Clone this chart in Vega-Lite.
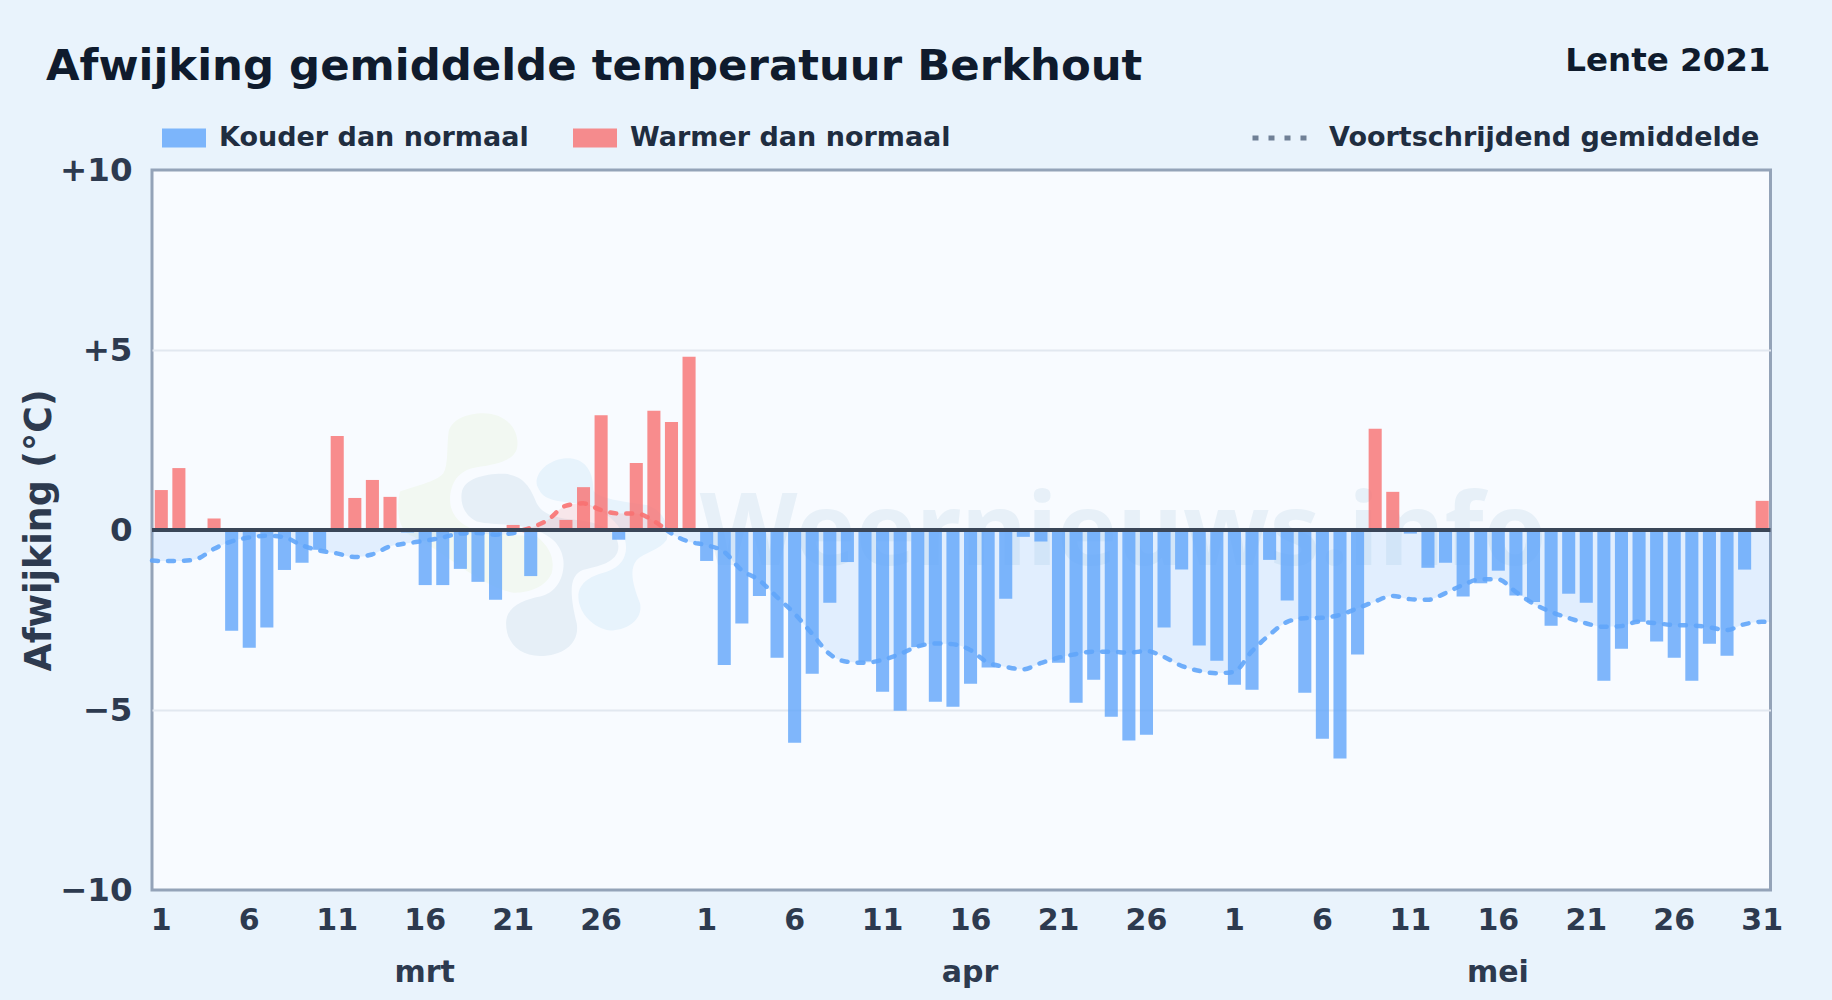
{
"$schema":"https://vega.github.io/schema/vega-lite/v6.json",
"width":1618.5,"height":720,
"autosize":{"type":"none"},
"padding":{"left":152,"top":170,"right":61,"bottom":110},
"background":"#e9f3fc",
"view":{"stroke":"#94a3b8","strokeWidth":3,"fill":"#f8fbff"},
"title":{"text":"Afwijking gemiddelde temperatuur Berkhout","anchor":"start","frame":"group","dx":-106,"offset":-78,"baseline":"alphabetic","font":"DejaVu Sans","fontSize":43.4,"fontWeight":"bold","color":"#0f1b2d"},
"datasets":{
"watermerk":[{"naam":"groen","datum":"2021-03-22T11:46:00Z","waarde":-0.09},{"naam":"blauw","datum":"2021-03-22T11:46:00Z","waarde":-0.09},{"naam":"navy","datum":"2021-03-22T11:46:00Z","waarde":-0.09}],
"merk":[{"tekst":"Weernieuws.info","datum":"2021-04-25T05:00:00Z","waarde":-0.97}],
"nullijn":[{"waarde":0}],
"maanden":[{"maand":"mrt","datum":"2021-03-16T12:00:00Z","waarde":-12.56},{"maand":"apr","datum":"2021-04-16T12:00:00Z","waarde":-12.56},{"maand":"mei","datum":"2021-05-16T12:00:00Z","waarde":-12.56}],
"kop":[{"tekst":"Lente 2021","datum":"2021-06-01T00:00:00Z","waarde":12.75}],
"dagen":[
{"datum":"2021-03-01","afwijking":1.11,"soort":"Warmer dan normaal"},
{"datum":"2021-03-02","afwijking":1.72,"soort":"Warmer dan normaal"},
{"datum":"2021-03-03","afwijking":0,"soort":"Warmer dan normaal"},
{"datum":"2021-03-04","afwijking":0.32,"soort":"Warmer dan normaal"},
{"datum":"2021-03-05","afwijking":-2.8,"soort":"Kouder dan normaal"},
{"datum":"2021-03-06","afwijking":-3.27,"soort":"Kouder dan normaal"},
{"datum":"2021-03-07","afwijking":-2.71,"soort":"Kouder dan normaal"},
{"datum":"2021-03-08","afwijking":-1.11,"soort":"Kouder dan normaal"},
{"datum":"2021-03-09","afwijking":-0.91,"soort":"Kouder dan normaal"},
{"datum":"2021-03-10","afwijking":-0.55,"soort":"Kouder dan normaal"},
{"datum":"2021-03-11","afwijking":2.61,"soort":"Warmer dan normaal"},
{"datum":"2021-03-12","afwijking":0.89,"soort":"Warmer dan normaal"},
{"datum":"2021-03-13","afwijking":1.39,"soort":"Warmer dan normaal"},
{"datum":"2021-03-14","afwijking":0.92,"soort":"Warmer dan normaal"},
{"datum":"2021-03-15","afwijking":-0.07,"soort":"Kouder dan normaal"},
{"datum":"2021-03-16","afwijking":-1.53,"soort":"Kouder dan normaal"},
{"datum":"2021-03-17","afwijking":-1.53,"soort":"Kouder dan normaal"},
{"datum":"2021-03-18","afwijking":-1.08,"soort":"Kouder dan normaal"},
{"datum":"2021-03-19","afwijking":-1.44,"soort":"Kouder dan normaal"},
{"datum":"2021-03-20","afwijking":-1.94,"soort":"Kouder dan normaal"},
{"datum":"2021-03-21","afwijking":0.14,"soort":"Warmer dan normaal"},
{"datum":"2021-03-22","afwijking":-1.28,"soort":"Kouder dan normaal"},
{"datum":"2021-03-23","afwijking":0,"soort":"Warmer dan normaal"},
{"datum":"2021-03-24","afwijking":0.28,"soort":"Warmer dan normaal"},
{"datum":"2021-03-25","afwijking":1.19,"soort":"Warmer dan normaal"},
{"datum":"2021-03-26","afwijking":3.19,"soort":"Warmer dan normaal"},
{"datum":"2021-03-27","afwijking":-0.27,"soort":"Kouder dan normaal"},
{"datum":"2021-03-28","afwijking":1.86,"soort":"Warmer dan normaal"},
{"datum":"2021-03-29","afwijking":3.31,"soort":"Warmer dan normaal"},
{"datum":"2021-03-30","afwijking":3.0,"soort":"Warmer dan normaal"},
{"datum":"2021-03-31","afwijking":4.81,"soort":"Warmer dan normaal"},
{"datum":"2021-04-01","afwijking":-0.86,"soort":"Kouder dan normaal"},
{"datum":"2021-04-02","afwijking":-3.75,"soort":"Kouder dan normaal"},
{"datum":"2021-04-03","afwijking":-2.6,"soort":"Kouder dan normaal"},
{"datum":"2021-04-04","afwijking":-1.83,"soort":"Kouder dan normaal"},
{"datum":"2021-04-05","afwijking":-3.55,"soort":"Kouder dan normaal"},
{"datum":"2021-04-06","afwijking":-5.91,"soort":"Kouder dan normaal"},
{"datum":"2021-04-07","afwijking":-3.99,"soort":"Kouder dan normaal"},
{"datum":"2021-04-08","afwijking":-2.02,"soort":"Kouder dan normaal"},
{"datum":"2021-04-09","afwijking":-0.89,"soort":"Kouder dan normaal"},
{"datum":"2021-04-10","afwijking":-3.65,"soort":"Kouder dan normaal"},
{"datum":"2021-04-11","afwijking":-4.49,"soort":"Kouder dan normaal"},
{"datum":"2021-04-12","afwijking":-5.02,"soort":"Kouder dan normaal"},
{"datum":"2021-04-13","afwijking":-3.25,"soort":"Kouder dan normaal"},
{"datum":"2021-04-14","afwijking":-4.77,"soort":"Kouder dan normaal"},
{"datum":"2021-04-15","afwijking":-4.91,"soort":"Kouder dan normaal"},
{"datum":"2021-04-16","afwijking":-4.27,"soort":"Kouder dan normaal"},
{"datum":"2021-04-17","afwijking":-3.82,"soort":"Kouder dan normaal"},
{"datum":"2021-04-18","afwijking":-1.91,"soort":"Kouder dan normaal"},
{"datum":"2021-04-19","afwijking":-0.19,"soort":"Kouder dan normaal"},
{"datum":"2021-04-20","afwijking":-0.32,"soort":"Kouder dan normaal"},
{"datum":"2021-04-21","afwijking":-3.69,"soort":"Kouder dan normaal"},
{"datum":"2021-04-22","afwijking":-4.8,"soort":"Kouder dan normaal"},
{"datum":"2021-04-23","afwijking":-4.16,"soort":"Kouder dan normaal"},
{"datum":"2021-04-24","afwijking":-5.19,"soort":"Kouder dan normaal"},
{"datum":"2021-04-25","afwijking":-5.85,"soort":"Kouder dan normaal"},
{"datum":"2021-04-26","afwijking":-5.69,"soort":"Kouder dan normaal"},
{"datum":"2021-04-27","afwijking":-2.71,"soort":"Kouder dan normaal"},
{"datum":"2021-04-28","afwijking":-1.1,"soort":"Kouder dan normaal"},
{"datum":"2021-04-29","afwijking":-3.21,"soort":"Kouder dan normaal"},
{"datum":"2021-04-30","afwijking":-3.63,"soort":"Kouder dan normaal"},
{"datum":"2021-05-01","afwijking":-4.3,"soort":"Kouder dan normaal"},
{"datum":"2021-05-02","afwijking":-4.44,"soort":"Kouder dan normaal"},
{"datum":"2021-05-03","afwijking":-0.83,"soort":"Kouder dan normaal"},
{"datum":"2021-05-04","afwijking":-1.96,"soort":"Kouder dan normaal"},
{"datum":"2021-05-05","afwijking":-4.52,"soort":"Kouder dan normaal"},
{"datum":"2021-05-06","afwijking":-5.8,"soort":"Kouder dan normaal"},
{"datum":"2021-05-07","afwijking":-6.35,"soort":"Kouder dan normaal"},
{"datum":"2021-05-08","afwijking":-3.46,"soort":"Kouder dan normaal"},
{"datum":"2021-05-09","afwijking":2.81,"soort":"Warmer dan normaal"},
{"datum":"2021-05-10","afwijking":1.06,"soort":"Warmer dan normaal"},
{"datum":"2021-05-11","afwijking":-0.1,"soort":"Kouder dan normaal"},
{"datum":"2021-05-12","afwijking":-1.05,"soort":"Kouder dan normaal"},
{"datum":"2021-05-13","afwijking":-0.91,"soort":"Kouder dan normaal"},
{"datum":"2021-05-14","afwijking":-1.85,"soort":"Kouder dan normaal"},
{"datum":"2021-05-15","afwijking":-1.48,"soort":"Kouder dan normaal"},
{"datum":"2021-05-16","afwijking":-1.13,"soort":"Kouder dan normaal"},
{"datum":"2021-05-17","afwijking":-1.82,"soort":"Kouder dan normaal"},
{"datum":"2021-05-18","afwijking":-2.0,"soort":"Kouder dan normaal"},
{"datum":"2021-05-19","afwijking":-2.66,"soort":"Kouder dan normaal"},
{"datum":"2021-05-20","afwijking":-1.77,"soort":"Kouder dan normaal"},
{"datum":"2021-05-21","afwijking":-2.02,"soort":"Kouder dan normaal"},
{"datum":"2021-05-22","afwijking":-4.19,"soort":"Kouder dan normaal"},
{"datum":"2021-05-23","afwijking":-3.3,"soort":"Kouder dan normaal"},
{"datum":"2021-05-24","afwijking":-2.55,"soort":"Kouder dan normaal"},
{"datum":"2021-05-25","afwijking":-3.1,"soort":"Kouder dan normaal"},
{"datum":"2021-05-26","afwijking":-3.55,"soort":"Kouder dan normaal"},
{"datum":"2021-05-27","afwijking":-4.19,"soort":"Kouder dan normaal"},
{"datum":"2021-05-28","afwijking":-3.16,"soort":"Kouder dan normaal"},
{"datum":"2021-05-29","afwijking":-3.49,"soort":"Kouder dan normaal"},
{"datum":"2021-05-30","afwijking":-1.1,"soort":"Kouder dan normaal"},
{"datum":"2021-05-31","afwijking":0.81,"soort":"Warmer dan normaal"}
],
"gemiddelde":[
{"datum":"2021-03-01T00:00:00Z","waarde":-0.85,"soort":"Kouder dan normaal","deel":1},
{"datum":"2021-03-01T12:00:00Z","waarde":-0.86,"soort":"Kouder dan normaal","deel":1},
{"datum":"2021-03-02T12:00:00Z","waarde":-0.86,"soort":"Kouder dan normaal","deel":1},
{"datum":"2021-03-03T12:00:00Z","waarde":-0.81,"soort":"Kouder dan normaal","deel":1},
{"datum":"2021-03-04T12:00:00Z","waarde":-0.53,"soort":"Kouder dan normaal","deel":1},
{"datum":"2021-03-05T12:00:00Z","waarde":-0.32,"soort":"Kouder dan normaal","deel":1},
{"datum":"2021-03-06T12:00:00Z","waarde":-0.21,"soort":"Kouder dan normaal","deel":1},
{"datum":"2021-03-07T12:00:00Z","waarde":-0.16,"soort":"Kouder dan normaal","deel":1},
{"datum":"2021-03-08T12:00:00Z","waarde":-0.2,"soort":"Kouder dan normaal","deel":1},
{"datum":"2021-03-09T12:00:00Z","waarde":-0.42,"soort":"Kouder dan normaal","deel":1},
{"datum":"2021-03-10T12:00:00Z","waarde":-0.57,"soort":"Kouder dan normaal","deel":1},
{"datum":"2021-03-11T12:00:00Z","waarde":-0.65,"soort":"Kouder dan normaal","deel":1},
{"datum":"2021-03-12T12:00:00Z","waarde":-0.75,"soort":"Kouder dan normaal","deel":1},
{"datum":"2021-03-13T12:00:00Z","waarde":-0.68,"soort":"Kouder dan normaal","deel":1},
{"datum":"2021-03-14T12:00:00Z","waarde":-0.46,"soort":"Kouder dan normaal","deel":1},
{"datum":"2021-03-15T12:00:00Z","waarde":-0.37,"soort":"Kouder dan normaal","deel":1},
{"datum":"2021-03-16T12:00:00Z","waarde":-0.3,"soort":"Kouder dan normaal","deel":1},
{"datum":"2021-03-17T12:00:00Z","waarde":-0.21,"soort":"Kouder dan normaal","deel":1},
{"datum":"2021-03-18T12:00:00Z","waarde":-0.1,"soort":"Kouder dan normaal","deel":1},
{"datum":"2021-03-19T12:00:00Z","waarde":-0.08,"soort":"Kouder dan normaal","deel":1},
{"datum":"2021-03-20T12:00:00Z","waarde":-0.13,"soort":"Kouder dan normaal","deel":1},
{"datum":"2021-03-21T12:00:00Z","waarde":-0.09,"soort":"Kouder dan normaal","deel":1},
{"datum":"2021-03-22T02:24:00Z","waarde":0,"soort":"Kouder dan normaal","deel":1},
{"datum":"2021-03-22T02:24:00Z","waarde":0,"soort":"Warmer dan normaal","deel":2},
{"datum":"2021-03-22T12:00:00Z","waarde":0.06,"soort":"Warmer dan normaal","deel":2},
{"datum":"2021-03-23T12:00:00Z","waarde":0.28,"soort":"Warmer dan normaal","deel":2},
{"datum":"2021-03-24T12:00:00Z","waarde":0.67,"soort":"Warmer dan normaal","deel":2},
{"datum":"2021-03-25T12:00:00Z","waarde":0.74,"soort":"Warmer dan normaal","deel":2},
{"datum":"2021-03-26T12:00:00Z","waarde":0.56,"soort":"Warmer dan normaal","deel":2},
{"datum":"2021-03-27T12:00:00Z","waarde":0.46,"soort":"Warmer dan normaal","deel":2},
{"datum":"2021-03-28T12:00:00Z","waarde":0.46,"soort":"Warmer dan normaal","deel":2},
{"datum":"2021-03-29T12:00:00Z","waarde":0.26,"soort":"Warmer dan normaal","deel":2},
{"datum":"2021-03-30T05:45:00Z","waarde":0,"soort":"Warmer dan normaal","deel":2},
{"datum":"2021-03-30T05:45:00Z","waarde":0,"soort":"Kouder dan normaal","deel":3},
{"datum":"2021-03-30T12:00:00Z","waarde":-0.09,"soort":"Kouder dan normaal","deel":3},
{"datum":"2021-03-31T12:00:00Z","waarde":-0.32,"soort":"Kouder dan normaal","deel":3},
{"datum":"2021-04-01T12:00:00Z","waarde":-0.42,"soort":"Kouder dan normaal","deel":3},
{"datum":"2021-04-02T12:00:00Z","waarde":-0.6,"soort":"Kouder dan normaal","deel":3},
{"datum":"2021-04-03T12:00:00Z","waarde":-1.11,"soort":"Kouder dan normaal","deel":3},
{"datum":"2021-04-04T12:00:00Z","waarde":-1.39,"soort":"Kouder dan normaal","deel":3},
{"datum":"2021-04-05T12:00:00Z","waarde":-1.85,"soort":"Kouder dan normaal","deel":3},
{"datum":"2021-04-06T12:00:00Z","waarde":-2.31,"soort":"Kouder dan normaal","deel":3},
{"datum":"2021-04-07T12:00:00Z","waarde":-2.87,"soort":"Kouder dan normaal","deel":3},
{"datum":"2021-04-08T12:00:00Z","waarde":-3.44,"soort":"Kouder dan normaal","deel":3},
{"datum":"2021-04-09T12:00:00Z","waarde":-3.66,"soort":"Kouder dan normaal","deel":3},
{"datum":"2021-04-10T12:00:00Z","waarde":-3.69,"soort":"Kouder dan normaal","deel":3},
{"datum":"2021-04-11T12:00:00Z","waarde":-3.61,"soort":"Kouder dan normaal","deel":3},
{"datum":"2021-04-12T12:00:00Z","waarde":-3.45,"soort":"Kouder dan normaal","deel":3},
{"datum":"2021-04-13T12:00:00Z","waarde":-3.24,"soort":"Kouder dan normaal","deel":3},
{"datum":"2021-04-14T12:00:00Z","waarde":-3.15,"soort":"Kouder dan normaal","deel":3},
{"datum":"2021-04-15T12:00:00Z","waarde":-3.17,"soort":"Kouder dan normaal","deel":3},
{"datum":"2021-04-16T12:00:00Z","waarde":-3.33,"soort":"Kouder dan normaal","deel":3},
{"datum":"2021-04-17T12:00:00Z","waarde":-3.68,"soort":"Kouder dan normaal","deel":3},
{"datum":"2021-04-18T12:00:00Z","waarde":-3.8,"soort":"Kouder dan normaal","deel":3},
{"datum":"2021-04-19T12:00:00Z","waarde":-3.87,"soort":"Kouder dan normaal","deel":3},
{"datum":"2021-04-20T12:00:00Z","waarde":-3.7,"soort":"Kouder dan normaal","deel":3},
{"datum":"2021-04-21T12:00:00Z","waarde":-3.55,"soort":"Kouder dan normaal","deel":3},
{"datum":"2021-04-22T12:00:00Z","waarde":-3.45,"soort":"Kouder dan normaal","deel":3},
{"datum":"2021-04-23T12:00:00Z","waarde":-3.38,"soort":"Kouder dan normaal","deel":3},
{"datum":"2021-04-24T12:00:00Z","waarde":-3.38,"soort":"Kouder dan normaal","deel":3},
{"datum":"2021-04-25T12:00:00Z","waarde":-3.41,"soort":"Kouder dan normaal","deel":3},
{"datum":"2021-04-26T12:00:00Z","waarde":-3.36,"soort":"Kouder dan normaal","deel":3},
{"datum":"2021-04-27T12:00:00Z","waarde":-3.52,"soort":"Kouder dan normaal","deel":3},
{"datum":"2021-04-28T12:00:00Z","waarde":-3.77,"soort":"Kouder dan normaal","deel":3},
{"datum":"2021-04-29T12:00:00Z","waarde":-3.91,"soort":"Kouder dan normaal","deel":3},
{"datum":"2021-04-30T12:00:00Z","waarde":-3.98,"soort":"Kouder dan normaal","deel":3},
{"datum":"2021-05-01T12:00:00Z","waarde":-3.94,"soort":"Kouder dan normaal","deel":3},
{"datum":"2021-05-02T12:00:00Z","waarde":-3.38,"soort":"Kouder dan normaal","deel":3},
{"datum":"2021-05-03T12:00:00Z","waarde":-2.92,"soort":"Kouder dan normaal","deel":3},
{"datum":"2021-05-04T12:00:00Z","waarde":-2.56,"soort":"Kouder dan normaal","deel":3},
{"datum":"2021-05-05T12:00:00Z","waarde":-2.45,"soort":"Kouder dan normaal","deel":3},
{"datum":"2021-05-06T12:00:00Z","waarde":-2.44,"soort":"Kouder dan normaal","deel":3},
{"datum":"2021-05-07T12:00:00Z","waarde":-2.36,"soort":"Kouder dan normaal","deel":3},
{"datum":"2021-05-08T12:00:00Z","waarde":-2.18,"soort":"Kouder dan normaal","deel":3},
{"datum":"2021-05-09T12:00:00Z","waarde":-1.99,"soort":"Kouder dan normaal","deel":3},
{"datum":"2021-05-10T12:00:00Z","waarde":-1.83,"soort":"Kouder dan normaal","deel":3},
{"datum":"2021-05-11T12:00:00Z","waarde":-1.92,"soort":"Kouder dan normaal","deel":3},
{"datum":"2021-05-12T12:00:00Z","waarde":-1.94,"soort":"Kouder dan normaal","deel":3},
{"datum":"2021-05-13T12:00:00Z","waarde":-1.76,"soort":"Kouder dan normaal","deel":3},
{"datum":"2021-05-14T12:00:00Z","waarde":-1.53,"soort":"Kouder dan normaal","deel":3},
{"datum":"2021-05-15T12:00:00Z","waarde":-1.37,"soort":"Kouder dan normaal","deel":3},
{"datum":"2021-05-16T12:00:00Z","waarde":-1.37,"soort":"Kouder dan normaal","deel":3},
{"datum":"2021-05-17T12:00:00Z","waarde":-1.71,"soort":"Kouder dan normaal","deel":3},
{"datum":"2021-05-18T12:00:00Z","waarde":-2.04,"soort":"Kouder dan normaal","deel":3},
{"datum":"2021-05-19T12:00:00Z","waarde":-2.27,"soort":"Kouder dan normaal","deel":3},
{"datum":"2021-05-20T12:00:00Z","waarde":-2.44,"soort":"Kouder dan normaal","deel":3},
{"datum":"2021-05-21T12:00:00Z","waarde":-2.59,"soort":"Kouder dan normaal","deel":3},
{"datum":"2021-05-22T12:00:00Z","waarde":-2.69,"soort":"Kouder dan normaal","deel":3},
{"datum":"2021-05-23T12:00:00Z","waarde":-2.67,"soort":"Kouder dan normaal","deel":3},
{"datum":"2021-05-24T12:00:00Z","waarde":-2.55,"soort":"Kouder dan normaal","deel":3},
{"datum":"2021-05-25T12:00:00Z","waarde":-2.59,"soort":"Kouder dan normaal","deel":3},
{"datum":"2021-05-26T12:00:00Z","waarde":-2.64,"soort":"Kouder dan normaal","deel":3},
{"datum":"2021-05-27T12:00:00Z","waarde":-2.65,"soort":"Kouder dan normaal","deel":3},
{"datum":"2021-05-28T12:00:00Z","waarde":-2.7,"soort":"Kouder dan normaal","deel":3},
{"datum":"2021-05-29T12:00:00Z","waarde":-2.78,"soort":"Kouder dan normaal","deel":3},
{"datum":"2021-05-30T12:00:00Z","waarde":-2.62,"soort":"Kouder dan normaal","deel":3},
{"datum":"2021-05-31T12:00:00Z","waarde":-2.55,"soort":"Kouder dan normaal","deel":3},
{"datum":"2021-06-01T00:00:00Z","waarde":-2.56,"soort":"Kouder dan normaal","deel":3}
]
},
"layer":[
{"data":{"name":"watermerk"},
 "mark":{"type":"point","filled":true,"size":90000,"opacity":1,"clip":true},
 "encoding":{
  "x":{"field":"datum","type":"temporal","scale":{"type":"utc","domain":[1614556800000,1622505600000]},
   "axis":{"title":null,"values":[1614600000000,1615032000000,1615464000000,1615896000000,1616328000000,1616760000000,1617278400000,1617710400000,1618142400000,1618574400000,1619006400000,1619438400000,1619870400000,1620302400000,1620734400000,1621166400000,1621598400000,1622030400000,1622462400000],
    "labelExpr":"utcFormat(datum.value,'%-d')","grid":false,"domain":false,"ticks":false,"labelPadding":15,"labelFlush":false,"labelOverlap":false,"labelFont":"DejaVu Sans","labelFontWeight":"bold","labelFontSize":30,"labelColor":"#2d3a4f"}},
  "y":{"field":"waarde","type":"quantitative","scale":{"domain":[-10,10]},
   "axis":{"title":"Afwijking (°C)","values":[-10,-5,0,5,10],"labelExpr":"datum.value>0?'+'+datum.value:(datum.value<0?'−'+abs(datum.value):'0')","grid":true,"gridColor":"#e2e8f0","gridWidth":2,"gridOpacity":{"condition":{"test":"abs(datum.value)==5","value":1},"value":0},"domain":false,"ticks":false,"labelPadding":20,"labelFont":"DejaVu Sans","labelFontWeight":"bold","labelFontSize":32.5,"labelColor":"#2d3a4f","titleFont":"DejaVu Sans","titleFontWeight":"bold","titleFontSize":36.4,"titleColor":"#2d3a4f","titlePadding":1}},
  "shape":{"field":"naam","type":"nominal","legend":null,"scale":{"domain":["groen","blauw","navy"],"range":[
   "M-.544,-.667C-.533,-.756,-.422,-.8,-.311,-.8C-.178,-.8,-.078,-.711,-.084,-.589C-.089,-.478,-.244,-.456,-.356,-.44C-.478,-.422,-.533,-.333,-.533,-.222C-.533,-.111,-.444,-.022,-.267,0L.044,.022C.133,.089,.167,.178,.144,.267C.1,.367,-.022,.4,-.111,.396C-.333,.356,-.556,.133,-.778,.022C-.867,0,-.9,-.133,-.867,-.278C-.778,-.311,-.622,-.344,-.578,-.4C-.544,-.456,-.556,-.578,-.544,-.667Z",
   "M.044,-.356C.067,-.456,.178,-.504,.267,-.5C.378,-.489,.422,-.4,.422,-.289C.444,-.233,.622,-.211,.778,-.189C.889,-.156,.933,-.044,.911,.044C.867,.111,.756,.133,.711,.178C.656,.244,.689,.356,.733,.467C.756,.578,.644,.649,.533,.649C.422,.633,.322,.533,.322,.422C.322,.322,.422,.278,.511,.256C.622,.222,.656,.133,.633,.044C.6,-.067,.511,-.144,.378,-.189C.267,-.211,.111,-.2,.067,-.278C.049,-.311,.04,-.322,.044,-.356Z",
   "M-.456,-.267C-.444,-.367,-.289,-.4,-.167,-.396C-.044,-.382,0,-.311,.044,-.2C.078,-.133,.156,-.1,.311,-.089C.444,-.078,.589,-.022,.589,.089C.589,.2,.444,.222,.356,.244C.267,.278,.256,.378,.311,.6C.333,.733,.222,.818,.067,.818C-.067,.818,-.16,.733,-.16,.6C-.16,.489,-.044,.444,.067,.422C.178,.4,.233,.289,.222,.178C.211,.089,.156,0,-.044,-.044C-.178,-.067,-.267,-.056,-.356,-.078C-.422,-.111,-.467,-.178,-.456,-.267Z"
  ]}},
  "fill":{"field":"naam","type":"nominal","legend":null,"scale":{"domain":["groen","blauw","navy"],"range":["#f2f8f2","#e7f3fc","#e6eff7"]}}
 }},
{"data":{"name":"merk"},
 "mark":{"type":"text","font":"Noto Sans","fontWeight":"bold","fontSize":101,"color":"#e7f0f8","align":"center","baseline":"alphabetic"},
 "encoding":{
  "x":{"field":"datum","type":"temporal"},
  "y":{"field":"waarde","type":"quantitative"},
  "text":{"field":"tekst"}
 }},
{"data":{"name":"gemiddelde"},
 "mark":{"type":"area","interpolate":"monotone","opacity":0.15},
 "encoding":{
  "x":{"field":"datum","type":"temporal"},
  "y":{"field":"waarde","type":"quantitative","stack":null},
  "y2":{"datum":0},
  "color":{"field":"soort","type":"nominal","scale":{"domain":["Kouder dan normaal","Warmer dan normaal"],"range":["#60a5fa","#f87171"]},
   "legend":{"title":null,"orient":"none","legendX":10,"legendY":-54,"direction":"horizontal","symbolType":"M-1,-.43H1V.43H-1Z","symbolSize":1936,"symbolOpacity":0.8,"symbolStrokeWidth":0,"labelFont":"DejaVu Sans","labelFontWeight":"bold","labelFontSize":27,"labelColor":"#1f2d40","labelLimit":500,"labelOffset":13,"columnPadding":44,"padding":0}},
  "detail":{"field":"deel"}
 }},
{"data":{"name":"dagen"},
 "mark":{"type":"bar","width":{"band":0.8},"opacity":0.8},
 "encoding":{
  "x":{"field":"datum","type":"temporal","timeUnit":"utcyearmonthdate"},
  "y":{"field":"afwijking","type":"quantitative","stack":null},
  "color":{"field":"soort","type":"nominal"}
 }},
{"data":{"name":"gemiddelde"},
 "mark":{"type":"line","interpolate":"monotone","strokeWidth":4.5,"strokeCap":"round","opacity":0.9},
 "encoding":{
  "x":{"field":"datum","type":"temporal"},
  "y":{"field":"waarde","type":"quantitative","stack":null},
  "color":{"field":"soort","type":"nominal"},
  "detail":{"field":"deel"},
  "strokeDash":{"datum":"Voortschrijdend gemiddelde","scale":{"domain":["Voortschrijdend gemiddelde"],"range":[[6,10]]},
   "legend":{"title":null,"orient":"none","legendX":1098,"legendY":-62,"symbolType":"stroke","symbolSize":3025,"symbolStrokeColor":"#64748b","symbolStrokeWidth":5,"labelFont":"DejaVu Sans","labelFontWeight":"bold","labelFontSize":27,"labelColor":"#1f2d40","labelLimit":600,"labelOffset":19,"padding":0,"encoding":{"symbols":{"update":{"strokeDash":{"value":[5,11.3]},"strokeCap":{"value":"butt"},"stroke":{"value":"#64748b"},"strokeWidth":{"value":5}}}}}}
 }},
{"data":{"name":"nullijn"},
 "mark":{"type":"rule","color":"#3a4658","strokeWidth":4},
 "encoding":{"y":{"field":"waarde","type":"quantitative"}}},
{"data":{"name":"maanden"},
 "mark":{"type":"text","font":"DejaVu Sans","fontWeight":"bold","fontSize":30,"color":"#2d3a4f","align":"center","baseline":"alphabetic"},
 "encoding":{
  "x":{"field":"datum","type":"temporal"},
  "y":{"field":"waarde","type":"quantitative"},
  "text":{"field":"maand"}
 }},
{"data":{"name":"kop"},
 "mark":{"type":"text","font":"DejaVu Sans","fontWeight":"bold","fontSize":32.5,"color":"#0f1b2d","align":"right","baseline":"alphabetic"},
 "encoding":{
  "x":{"field":"datum","type":"temporal"},
  "y":{"field":"waarde","type":"quantitative"},
  "text":{"field":"tekst"}
 }}
]
}
